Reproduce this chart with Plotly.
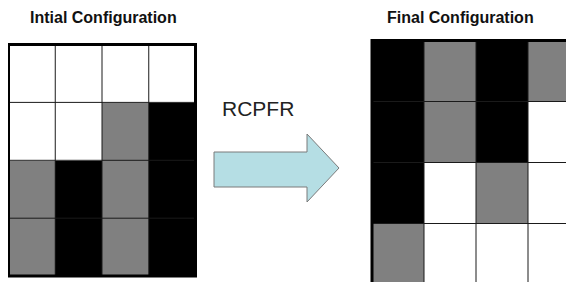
import plotly.graph_objects as go

# ---- data ----
# cell states: 0 = white, 1 = grey, 2 = black ; rows listed top to bottom
initial_grid = [
    [0, 0, 0, 0],
    [0, 0, 1, 2],
    [1, 2, 1, 2],
    [1, 2, 1, 2],
]
final_grid = [
    [2, 1, 2, 1],
    [2, 1, 2, 0],
    [2, 0, 1, 0],
    [1, 0, 0, 0],
]
titles = ["Intial Configuration", "Final Configuration"]
arrow_label = "RCPFR"

# ---- geometry (page-pixel space; page body has an 8px margin) ----
W, H = 574, 282
PAGE_MARGIN = 8
grids = [
    dict(z=initial_grid, x0=8.5, y0=44.5, cw=46.75, ch=57.9, title=titles[0], tx=103.5),
    dict(z=final_grid, x0=372.0, y0=40.5, cw=52.0, ch=61.0, title=titles[1], tx=460.5),
]

colorscale = [[0.0, "#ffffff"], [0.5, "#808080"], [1.0, "#000000"]]

fig = go.Figure()
shapes = []
annotations = []

for g in grids:
    nr = len(g["z"])
    nc = len(g["z"][0])
    xs = [g["x0"] + g["cw"] * (i + 0.5) for i in range(nc)]
    ys = [g["y0"] + g["ch"] * (j + 0.5) for j in range(nr)]
    fig.add_trace(go.Heatmap(
        z=g["z"], x=xs, y=ys, zmin=0, zmax=2, colorscale=colorscale,
        showscale=False, hoverinfo="skip", xgap=0, ygap=0,
    ))
    x1 = g["x0"] + g["cw"] * nc
    y1 = g["y0"] + g["ch"] * nr
    # inner grid lines
    for i in range(1, nc):
        xv = g["x0"] + g["cw"] * i
        shapes.append(dict(type="line", x0=xv, x1=xv, y0=g["y0"], y1=y1,
                           line=dict(color="#1a1a1a", width=1), layer="above"))
    for j in range(1, nr):
        yv = g["y0"] + g["ch"] * j
        shapes.append(dict(type="line", x0=g["x0"], x1=x1, y0=yv, y1=yv,
                           line=dict(color="#1a1a1a", width=1), layer="above"))
    # outer border
    shapes.append(dict(type="rect", x0=g["x0"], x1=x1, y0=g["y0"], y1=y1,
                       line=dict(color="#000000", width=3), layer="above"))
    annotations.append(dict(x=g["tx"], y=17, text="<b>%s</b>" % g["title"], showarrow=False,
                            xref="x", yref="y", xanchor="center", yanchor="middle",
                            font=dict(family="Liberation Sans, Arial, sans-serif", size=16, color="#111111")))

# block arrow
ax0, ax1, ax2 = 214, 307, 339
ay_body0, ay_body1 = 152, 187
ay_head0, ay_head1, ay_tip = 134, 202, 168
path = ("M %d %d L %d %d L %d %d L %d %d L %d %d L %d %d L %d %d Z" %
        (ax0, ay_body0, ax1, ay_body0, ax1, ay_head0, ax2, ay_tip,
         ax1, ay_head1, ax1, ay_body1, ax0, ay_body1))
shapes.append(dict(type="path", path=path, fillcolor="#b5dee4",
                   line=dict(color="#7a7a7a", width=1), layer="above"))

annotations.append(dict(x=258, y=108, text=arrow_label, showarrow=False, xref="x", yref="y",
                        xanchor="center", yanchor="middle",
                        font=dict(family="Liberation Sans, Arial, sans-serif", size=21, color="#222222")))

fig.update_layout(
    width=W - PAGE_MARGIN, height=H - PAGE_MARGIN, autosize=False,
    margin=dict(l=0, r=0, t=0, b=0),
    paper_bgcolor="white", plot_bgcolor="white",
    xaxis=dict(range=[PAGE_MARGIN, W], visible=False, fixedrange=True),
    yaxis=dict(range=[H, PAGE_MARGIN], visible=False, fixedrange=True),
    shapes=shapes, annotations=annotations, showlegend=False,
)

fig.write_html("out.html")
